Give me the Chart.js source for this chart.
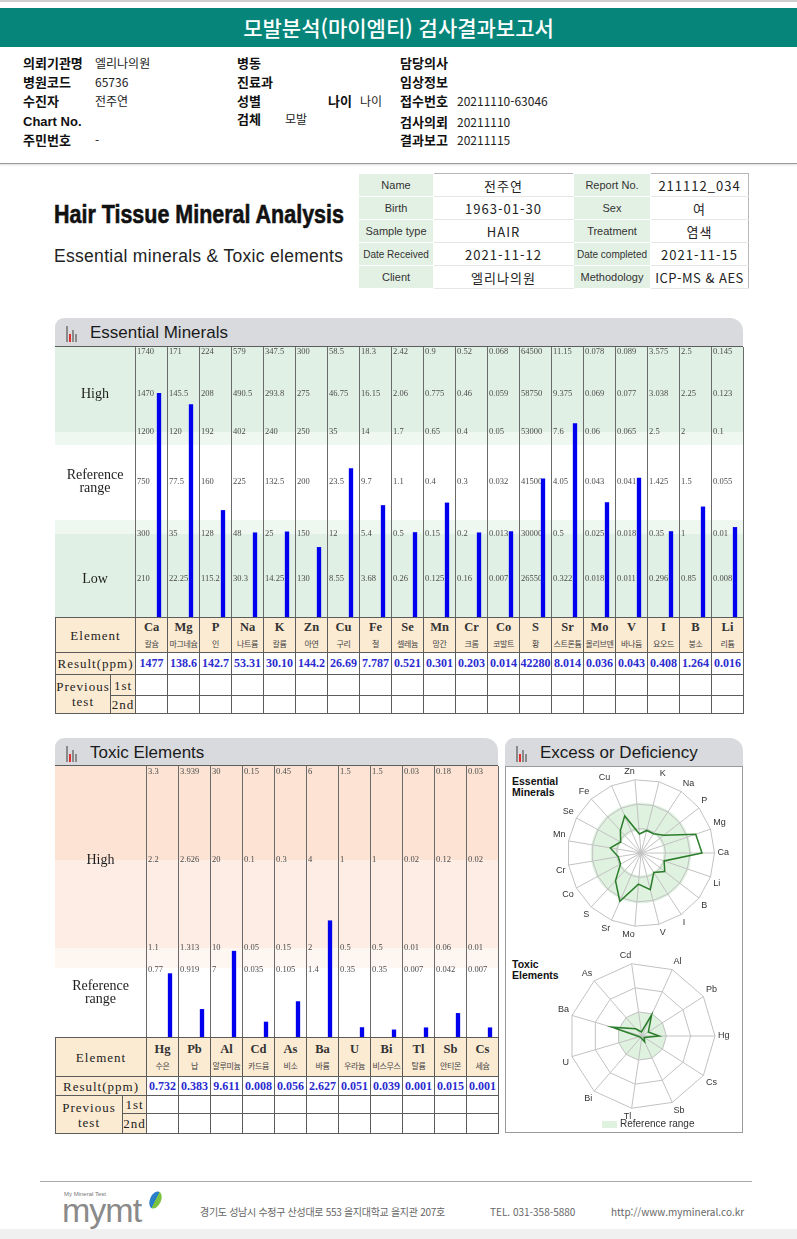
<!DOCTYPE html>
<html lang="ko">
<head>
<meta charset="utf-8">
<title>모발분석(마이엠티) 검사결과보고서</title>
<script src="https://cdn.jsdelivr.net/npm/chart.js@4.4.1/dist/chart.umd.min.js"></script>
<style>
  body { margin: 0; width: 797px; height: 1239px; position: relative; background: #fff; overflow: hidden;
         font-family: "Noto Sans CJK KR", "Noto Sans", sans-serif; }
  .a { position: absolute; white-space: nowrap; }
  .lb { font-weight: 700; font-size: 13px; color: #111; line-height: 18px; }
  .vl { font-size: 12px; color: #222; line-height: 18px; }
  .ph { position: absolute; height: 29px; background: #d9dade; border-radius: 9px 13px 0 0;
        font-family: "Liberation Sans", Arial, sans-serif; font-size: 17px; color: #1a1a1a;
        line-height: 30px; padding-left: 35px; box-sizing: border-box; }
  .ic { position: absolute; left: 11px; top: 7px; width: 14px; height: 17px; }
  .ic i { position: absolute; bottom: 0; width: 2px; }
  table.info { position: absolute; left: 358px; top: 173px; width: 390px; border-collapse: collapse;
               border: 1px solid #b8b8b8; table-layout: fixed; }
  table.info td { height: 22px; padding: 0; text-align: center; border-bottom: 1px solid #e6e6e6; }
  table.info td.k { background: #e3f1e5; border: 1px solid #fff; font-family: "Liberation Sans", Arial, sans-serif;
                    font-size: 11px; color: #333; }
  table.info td.v { font-size: 13px; color: #222; letter-spacing: 1px; }
  table.res { position: absolute; border-collapse: collapse; table-layout: fixed; font-family: "Liberation Serif", serif; }
  table.res td { border: 1px solid #5c5c5c; padding: 0; text-align: center; overflow: hidden; white-space: nowrap; }
  table.res td.pe { background: #fcebd3; }
  table.res td.hd { font-size: 13px; letter-spacing: 1px; color: #222; line-height: 15px; }
  .sym { display: block; font-weight: 700; font-size: 12.5px; color: #333; line-height: 17px; }
  .kn { display: block; font-family: "Noto Sans CJK KR", sans-serif; font-size: 8px; letter-spacing: -0.4px;
        color: #444; line-height: 15px; }
  table.res td.rv { color: #2b2bd0; font-weight: 700; font-size: 12px; }
</style>
</head>
<body>

<!-- report header -->
<div class="a" style="left:0;top:0;width:797px;height:2px;background:#cfcfcf"></div>
<div class="a" style="left:0;top:8px;width:797px;height:39px;background:#06867a;color:#fff;font-size:21px;
     text-align:center;line-height:39px;font-weight:500">모발분석(마이엠티) 검사결과보고서</div>

<div class="a lb" style="left:23px;top:54px">의뢰기관명</div><div class="a vl" style="left:95px;top:54px">엘리나의원</div>
<div class="a lb" style="left:237px;top:54px">병동</div>
<div class="a lb" style="left:400px;top:54px">담당의사</div>

<div class="a lb" style="left:23px;top:73px">병원코드</div><div class="a vl" style="left:95px;top:73px">65736</div>
<div class="a lb" style="left:237px;top:73px">진료과</div>
<div class="a lb" style="left:400px;top:73px">임상정보</div>

<div class="a lb" style="left:23px;top:92px">수진자</div><div class="a vl" style="left:95px;top:92px">전주연</div>
<div class="a lb" style="left:237px;top:92px">성별</div>
<div class="a lb" style="left:328px;top:92px">나이</div><div class="a vl" style="left:360px;top:92px">나이</div>
<div class="a lb" style="left:400px;top:92px">접수번호</div><div class="a vl" style="left:457px;top:92px">20211110-63046</div>

<div class="a lb" style="left:23px;top:113px;font-family:'Liberation Sans',sans-serif">Chart No.</div>
<div class="a lb" style="left:237px;top:110px">검체</div><div class="a vl" style="left:285px;top:110px">모발</div>
<div class="a lb" style="left:400px;top:113px">검사의뢰</div><div class="a vl" style="left:457px;top:113px">20211110</div>

<div class="a lb" style="left:23px;top:131px">주민번호</div><div class="a vl" style="left:95px;top:131px">-</div>
<div class="a lb" style="left:400px;top:131px">결과보고</div><div class="a vl" style="left:457px;top:131px">20211115</div>

<div class="a" style="left:0;top:163px;width:797px;height:1px;background:#9a9a9a;box-shadow:0 1px 2px #ccc"></div>

<!-- report title -->
<div class="a" style="left:54px;top:201px;font-family:'Liberation Sans',Arial,sans-serif;font-weight:700;font-size:26.5px;
     line-height:26px;color:#111;-webkit-text-stroke:0.6px #111;transform:scaleX(0.81);transform-origin:left">Hair Tissue Mineral Analysis</div>
<div class="a" style="left:54px;top:248px;font-family:'Liberation Sans',Arial,sans-serif;font-size:17.5px;
     line-height:17.5px;color:#222;letter-spacing:0.3px">Essential minerals &amp; Toxic elements</div>

<table class="info">
  <colgroup><col style="width:75px"><col style="width:140px"><col style="width:77px"><col style="width:98px"></colgroup>
  <tr><td class="k">Name</td><td class="v">전주연</td><td class="k">Report No.</td><td class="v">211112_034</td></tr>
  <tr><td class="k">Birth</td><td class="v">1963-01-30</td><td class="k">Sex</td><td class="v">여</td></tr>
  <tr><td class="k">Sample type</td><td class="v">HAIR</td><td class="k">Treatment</td><td class="v">염색</td></tr>
  <tr><td class="k" style="font-size:10px">Date Received</td><td class="v">2021-11-12</td><td class="k" style="font-size:10px">Date completed</td><td class="v">2021-11-15</td></tr>
  <tr><td class="k">Client</td><td class="v">엘리나의원</td><td class="k">Methodology</td><td class="v" style="letter-spacing:0.5px">ICP-MS &amp; AES</td></tr>
</table>

<!-- essential minerals -->
<div class="ph" style="left:55px;top:318px;width:688px">
  <span class="ic"><i style="left:0;height:16px;background:#8a8a8a"></i><i style="left:3px;height:8px;background:#e23030"></i><i style="left:6px;height:12px;background:#8a8a8a"></i><i style="left:9px;height:8px;background:#8a8a8a"></i></span>
  Essential Minerals
</div>
<div class="a" style="left:55px;top:346px;width:688px;height:1px;background:#5c5c5c"></div>
<canvas id="essChart" class="a" style="left:55px;top:347px" width="689" height="270"></canvas>
<table class="res" id="essTable"></table>

<!-- toxic elements -->
<div class="ph" style="left:55px;top:738px;width:443px">
  <span class="ic"><i style="left:0;height:16px;background:#8a8a8a"></i><i style="left:3px;height:8px;background:#e23030"></i><i style="left:6px;height:12px;background:#8a8a8a"></i><i style="left:9px;height:8px;background:#8a8a8a"></i></span>
  Toxic Elements
</div>
<div class="a" style="left:55px;top:765px;width:443px;height:1px;background:#5c5c5c"></div>
<canvas id="toxChart" class="a" style="left:55px;top:766px" width="444" height="271"></canvas>
<table class="res" id="toxTable"></table>

<!-- excess or deficiency -->
<div class="ph" style="left:505px;top:738px;width:238px">
  <span class="ic"><i style="left:0;height:16px;background:#8a8a8a"></i><i style="left:3px;height:8px;background:#e23030"></i><i style="left:6px;height:12px;background:#8a8a8a"></i><i style="left:9px;height:8px;background:#8a8a8a"></i></span>
  Excess or Deficiency
</div>
<div class="a" style="left:505px;top:766px;width:236px;height:365px;border:1px solid #9a9a9a"></div>
<div class="a" style="left:512px;top:776px;font-family:'Liberation Sans',sans-serif;font-weight:700;font-size:10.5px;line-height:11px;color:#111">Essential<br>Minerals</div>
<div class="a" style="left:512px;top:959px;font-family:'Liberation Sans',sans-serif;font-weight:700;font-size:10.5px;line-height:11px;color:#111">Toxic<br>Elements</div>
<canvas id="essRadar" class="a" style="left:506px;top:767px" width="270" height="174"></canvas>
<canvas id="toxRadar" class="a" style="left:506px;top:950px" width="272" height="172"></canvas>
<div class="a" style="left:602px;top:1121px;width:15px;height:7px;background:#dff1df"></div>
<div class="a" style="left:620px;top:1117px;font-family:'Liberation Sans',sans-serif;font-size:10px;line-height:14px;color:#333">Reference range</div>

<!-- footer -->
<div class="a" style="left:40px;top:1181px;width:712px;height:1px;background:#aaa"></div>
<div class="a" style="left:64px;top:1191px;font-family:'Liberation Sans',sans-serif;font-size:6px;color:#777">My Mineral Test</div>
<div class="a" style="left:62px;top:1193px;font-family:'Liberation Sans',sans-serif;font-size:34px;line-height:34px;color:#8a8a8a;letter-spacing:-1px">mymt</div>
<div class="a" style="left:150px;top:1191px;width:11px;height:18px;border-radius:60%;background:linear-gradient(90deg,#2a7fc9 50%,#7cc242 50%);transform:rotate(25deg)"></div>
<div class="a" style="left:200px;top:1205px;font-size:10px;line-height:14px;color:#666;letter-spacing:-0.3px">경기도 성남시 수정구 산성대로 553 을지대학교 을지관 207호</div>
<div class="a" style="left:490px;top:1205px;font-size:10px;line-height:14px;color:#666">TEL. 031-358-5880</div>
<div class="a" style="left:611px;top:1205px;font-size:10px;line-height:14px;color:#666">http://www.mymineral.co.kr</div>
<div class="a" style="left:0;top:1229px;width:797px;height:10px;background:#f0f0f0"></div>

<script>
// ---- essential minerals ----
const essentialElements = ['Ca', 'Mg', 'P', 'Na', 'K', 'Zn', 'Cu', 'Fe', 'Se', 'Mn', 'Cr', 'Co', 'S', 'Sr', 'Mo', 'V', 'I', 'B', 'Li']
const essentialNames = ['칼슘', '마그네슘', '인', '나트륨', '칼륨', '아연', '구리', '철', '셀레늄', '망간', '크롬', '코발트', '황', '스트론튬', '몰리브덴', '바나듐', '요오드', '붕소', '리튬']
const essentialResults = ['1477', '138.6', '142.7', '53.31', '30.10', '144.2', '26.69', '7.787', '0.521', '0.301', '0.203', '0.014', '42280', '8.014', '0.036', '0.043', '0.408', '1.264', '0.016']
// column tick labels, low -> high
const essentialTicks = [
  ['210', '300', '750', '1200', '1470', '1740'],
  ['22.25', '35', '77.5', '120', '145.5', '171'],
  ['115.2', '128', '160', '192', '208', '224'],
  ['30.3', '48', '225', '402', '490.5', '579'],
  ['14.25', '25', '132.5', '240', '293.8', '347.5'],
  ['130', '150', '200', '250', '275', '300'],
  ['8.55', '12', '23.5', '35', '46.75', '58.5'],
  ['3.68', '5.4', '9.7', '14', '16.15', '18.3'],
  ['0.26', '0.5', '1.1', '1.7', '2.06', '2.42'],
  ['0.125', '0.15', '0.4', '0.65', '0.775', '0.9'],
  ['0.16', '0.2', '0.3', '0.4', '0.46', '0.52'],
  ['0.007', '0.013', '0.032', '0.05', '0.059', '0.068'],
  ['26550', '30000', '41500', '53000', '58750', '64500'],
  ['0.322', '0.5', '4.05', '7.6', '9.375', '11.15'],
  ['0.018', '0.025', '0.043', '0.06', '0.069', '0.078'],
  ['0.011', '0.018', '0.041', '0.065', '0.077', '0.089'],
  ['0.296', '0.35', '1.425', '2.5', '3.038', '3.575'],
  ['0.85', '1', '1.5', '2', '2.25', '2.5'],
  ['0.008', '0.01', '0.055', '0.1', '0.123', '0.145']
]

// ---- toxic elements ----
const toxicElements = ['Hg', 'Pb', 'Al', 'Cd', 'As', 'Ba', 'U', 'Bi', 'Tl', 'Sb', 'Cs']
const toxicNames = ['수은', '납', '알루미늄', '카드뮴', '비소', '바륨', '우라늄', '비스무스', '탈륨', '안티몬', '세슘']
const toxicResults = ['0.732', '0.383', '9.611', '0.008', '0.056', '2.627', '0.051', '0.039', '0.001', '0.015', '0.001']
const toxicTicks = [
  ['0.77', '1.1', '2.2', '3.3'],
  ['0.919', '1.313', '2.626', '3.939'],
  ['7', '10', '20', '30'],
  ['0.035', '0.05', '0.1', '0.15'],
  ['0.105', '0.15', '0.3', '0.45'],
  ['1.4', '2', '4', '6'],
  ['0.35', '0.5', '1', '1.5'],
  ['0.35', '0.5', '1', '1.5'],
  ['0.007', '0.01', '0.02', '0.03'],
  ['0.042', '0.06', '0.12', '0.18'],
  ['0.007', '0.01', '0.02', '0.03']
]

// level heights of each tick row on the shared band scale
const ESS_LEVELS = [38, 83, 135, 185, 223, 265]
const ESS_MAX = 270
const TOX_LEVELS = [67, 89, 177, 265]
const TOX_MAX = 271
const RINGS = 3

Chart.defaults.font.family = '"Liberation Sans", Arial, sans-serif'

// piecewise-linear position of a value between its column's tick rows
function toLevel(value, ticks, levels) {
  const xs = [0].concat(ticks.map(Number))
  const ys = [0].concat(levels)
  for (let i = 1; i < xs.length; i++) {
    if (value <= xs[i] || i === xs.length - 1) {
      return ys[i - 1] + (value - xs[i - 1]) / (xs[i] - xs[i - 1]) * (ys[i] - ys[i - 1])
    }
  }
}

const essentialLevels = essentialResults.map((r, i) => toLevel(parseFloat(r), essentialTicks[i], ESS_LEVELS))
const toxicLevels = toxicResults.map((r, i) => toLevel(parseFloat(r), toxicTicks[i], TOX_LEVELS))

// bands, per-column tick labels and row titles
const columnsPlugin = {
  id: 'columns',
  beforeDraw(chart, args, opts) {
    const { ctx, chartArea: a, scales: { y } } = chart
    ctx.save()
    opts.bands.forEach((b) => {
      const top = y.getPixelForValue(b.to)
      ctx.fillStyle = b.color
      ctx.fillRect(0, top, a.right, y.getPixelForValue(b.from) - top)
    })
    ctx.restore()
  },
  beforeDatasetsDraw(chart, args, opts) {
    const { ctx, chartArea: a, scales: { x, y } } = chart
    const colW = a.width / opts.ticks.length
    ctx.save()
    ctx.fillStyle = '#4a4a4a'
    ctx.font = '8.5px "Liberation Serif", serif'
    ctx.textBaseline = 'middle'
    ctx.textAlign = 'left'
    opts.ticks.forEach((col, i) => {
      const left = x.getPixelForTick(i) - colW / 2 + 2
      col.forEach((t, j) => ctx.fillText(t, left, y.getPixelForValue(opts.levels[j])))
    })
    ctx.fillStyle = '#1e1e1e'
    ctx.font = '14px "Liberation Serif", serif'
    ctx.textAlign = 'center'
    opts.rows.forEach((r) => {
      const cy = y.getPixelForValue(r.at)
      r.text.forEach((t, k) => ctx.fillText(t, a.left / 2, cy + (k - (r.text.length - 1) / 2) * 13))
    })
    ctx.restore()
  }
}

function barChart(id, labels, levels, max, pad, opts) {
  return new Chart(document.getElementById(id), {
    type: 'bar',
    data: {
      labels: labels,
      datasets: [
        // empty first slot pushes the result bar to the right part of each column
        { data: labels.map(() => null) },
        { data: levels, backgroundColor: '#0000ee' }
      ]
    },
    options: {
      responsive: false,
      animation: false,
      layout: { padding: { left: pad, right: 1, top: 0, bottom: 0 } },
      datasets: { bar: { categoryPercentage: 1, barPercentage: 0.27 } },
      plugins: { legend: { display: false }, tooltip: { enabled: false }, columns: opts },
      scales: {
        x: { offset: true, grid: { offset: true, color: '#6a6a6a', drawTicks: false }, ticks: { display: false }, border: { display: false } },
        y: { display: false, min: 0, max: max }
      }
    },
    plugins: [columnsPlugin]
  })
}

barChart('essChart', essentialElements, essentialLevels, ESS_MAX, 80, {
  ticks: essentialTicks,
  levels: ESS_LEVELS,
  bands: [
    { from: ESS_LEVELS[3], to: ESS_MAX, color: '#e1f0e5' },
    { from: ESS_LEVELS[3] - 13, to: ESS_LEVELS[3], color: '#eef7f0' },
    { from: ESS_LEVELS[1], to: ESS_LEVELS[1] + 14, color: '#eef7f0' },
    { from: 0, to: ESS_LEVELS[1], color: '#e1f0e5' }
  ],
  rows: [
    { text: ['High'], at: ESS_LEVELS[4] },
    { text: ['Reference', 'range'], at: ESS_LEVELS[2] },
    { text: ['Low'], at: ESS_LEVELS[0] }
  ]
})

barChart('toxChart', toxicElements, toxicLevels, TOX_MAX, 91, {
  ticks: toxicTicks,
  levels: TOX_LEVELS,
  bands: [
    { from: TOX_LEVELS[2], to: TOX_MAX, color: '#fce3d4' },
    { from: TOX_LEVELS[1], to: TOX_LEVELS[2], color: '#fdede4' },
    { from: TOX_LEVELS[1] - 20, to: TOX_LEVELS[1], color: '#fef6f1' }
  ],
  rows: [
    { text: ['High'], at: TOX_LEVELS[2] },
    { text: ['Reference', 'range'], at: TOX_LEVELS[1] / 2 }
  ]
})

// result tables under the bar charts
function buildTable(id, left, top, labelW, elements, names, results, rowH) {
  const t = document.getElementById(id)
  t.style.left = left + 'px'
  t.style.top = top + 'px'
  t.style.width = (labelW[0] + labelW[1] + elements.length * 32) + 'px'
  let h = '<colgroup><col style="width:' + labelW[0] + 'px"><col style="width:' + labelW[1] + 'px">'
  elements.forEach(() => { h += '<col style="width:32px">' })
  h += '</colgroup>'
  h += '<tr style="height:' + rowH[0] + 'px"><td colspan="2" class="pe hd">Element</td>'
  elements.forEach((e, i) => { h += '<td class="pe"><span class="sym">' + e + '</span><span class="kn">' + names[i] + '</span></td>' })
  h += '</tr><tr style="height:' + rowH[1] + 'px"><td colspan="2" class="pe hd">Result(ppm)</td>'
  results.forEach((r) => { h += '<td class="rv">' + r + '</td>' })
  h += '</tr><tr style="height:' + rowH[2] + 'px"><td rowspan="2" class="pe hd">Previous<br>test</td><td class="pe hd">1st</td>'
  elements.forEach(() => { h += '<td></td>' })
  h += '</tr><tr style="height:' + rowH[3] + 'px"><td class="pe hd">2nd</td>'
  elements.forEach(() => { h += '<td></td>' })
  h += '</tr>'
  t.innerHTML = h
}

buildTable('essTable', 55, 617, [55, 25], essentialElements, essentialNames, essentialResults, [35, 22, 21, 18])
buildTable('toxTable', 55, 1037, [67, 24], toxicElements, toxicNames, toxicResults, [39, 19, 18, 20])

// radar charts: first element at 3 o'clock, the rest counter-clockwise
const refRangePlugin = {
  id: 'refRange',
  beforeDraw(chart, args, opts) {
    const r = chart.scales.r
    const ctx = chart.ctx
    ctx.save()
    ctx.fillStyle = '#dff1df'
    ctx.beginPath()
    ctx.arc(r.xCenter, r.yCenter, r.getDistanceFromCenterForValue(opts.outer), 0, Math.PI * 2)
    if (opts.inner > 0) {
      ctx.moveTo(r.xCenter + r.getDistanceFromCenterForValue(opts.inner), r.yCenter)
      ctx.arc(r.xCenter, r.yCenter, r.getDistanceFromCenterForValue(opts.inner), 0, Math.PI * 2, true)
    }
    ctx.fill('evenodd')
    ctx.restore()
  }
}

function ccw(arr) {
  return [arr[0]].concat(arr.slice(1).reverse())
}

function radarChart(id, labels, levels, max, inner, outer) {
  return new Chart(document.getElementById(id), {
    type: 'radar',
    data: {
      labels: ccw(labels),
      datasets: [{
        data: ccw(levels).map((v) => v / max * RINGS),
        borderColor: '#2a7d2a',
        borderWidth: 1.5,
        pointRadius: 0,
        fill: false
      }]
    },
    options: {
      responsive: false,
      animation: false,
      plugins: { legend: { display: false }, tooltip: { enabled: false }, refRange: { inner: inner / max * RINGS, outer: outer / max * RINGS } },
      scales: {
        r: {
          min: 0,
          max: RINGS,
          startAngle: 90,
          ticks: { display: false, stepSize: 1 },
          grid: { color: '#c2c2c2' },
          angleLines: { color: '#c2c2c2' },
          pointLabels: { font: { size: 9 }, color: '#333', padding: 3 }
        }
      }
    },
    plugins: [refRangePlugin]
  })
}

radarChart('essRadar', essentialElements, essentialLevels, ESS_MAX, ESS_LEVELS[1], ESS_LEVELS[3])
radarChart('toxRadar', toxicElements, toxicLevels, TOX_MAX, 0, TOX_LEVELS[1])
</script>
</body>
</html>
